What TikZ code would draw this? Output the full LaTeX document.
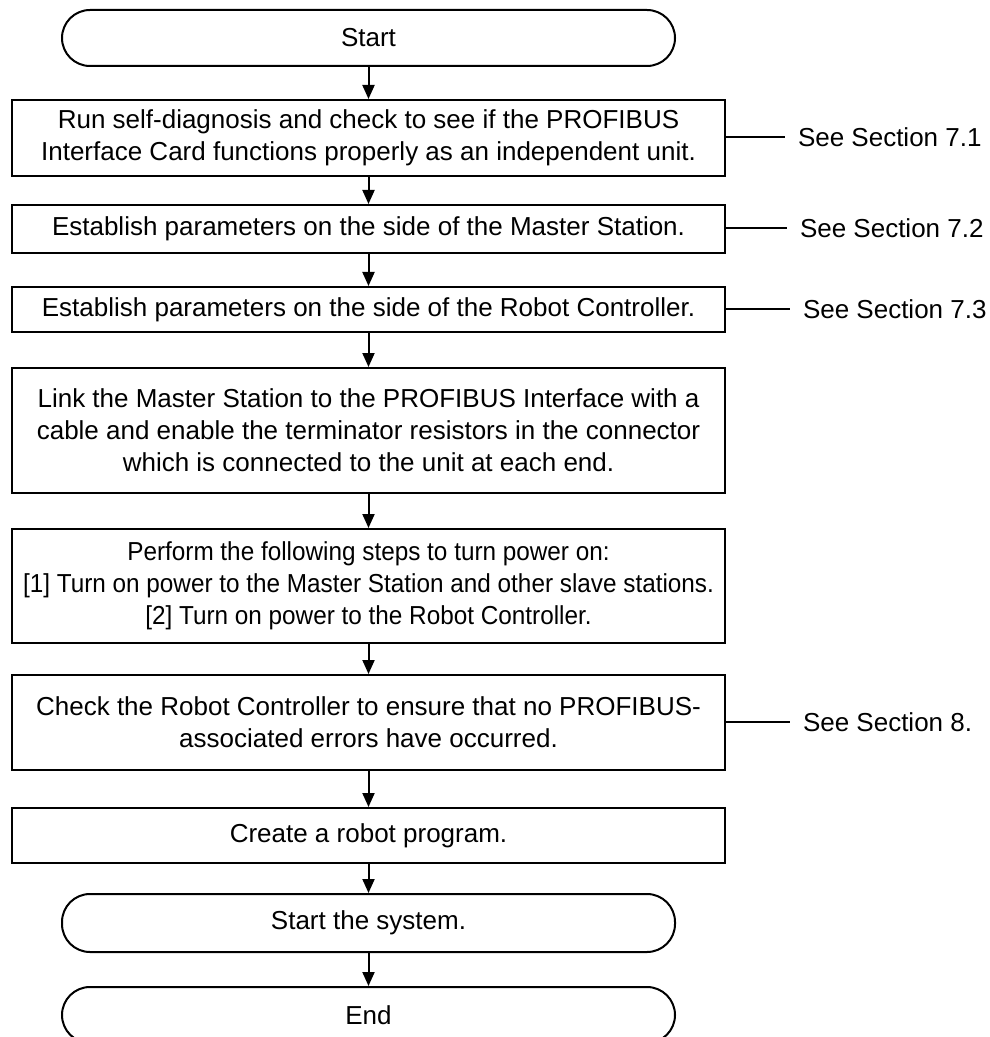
\documentclass[tikz,border=0pt]{standalone}
\usepackage{fontspec}
\setmainfont{Liberation Sans}
\newfontfamily\narrowfont[FakeStretch=0.935]{Liberation Sans}
\usetikzlibrary{arrows.meta}

\begin{document}
\begin{tikzpicture}[x=0.5pt,y=-0.5pt,line width=1pt,>={Triangle[width=6pt,length=7pt]},
  stepbox/.style={draw,rectangle,minimum width=356.5pt,align=center,inner sep=0pt,
    font=\fontsize{13}{16}\selectfont},
  termbox/.style={draw,rectangle,rounded corners=14pt,minimum width=306.5pt,
    minimum height=28pt,align=center,inner sep=0pt,font=\fontsize{13}{16}\selectfont},
  refnote/.style={anchor=west,inner xsep=6pt,inner ysep=0pt,font=\fontsize{13}{16}\selectfont}]
\useasboundingbox (0,0) rectangle (989,1037);
% ---------- main flow ----------
\node[termbox] (start) at (368.5,38) {Start};
\node[stepbox,minimum height=38pt] (selftest) at (368.5,138)
  {Run self-diagnosis and check to see if the PROFIBUS\\
   Interface Card functions properly as an independent unit.};
\node[stepbox,minimum height=24pt] (masterpar) at (368.5,229)
  {Establish parameters on the side of the Master Station.};
\node[stepbox,minimum height=22.5pt] (robotpar) at (368.5,309.5)
  {Establish parameters on the side of the Robot Controller.};
\node[stepbox,minimum height=62.5pt] (link) at (368.5,430.5)
  {Link the Master Station to the PROFIBUS Interface with a\\
   cable and enable the terminator resistors in the connector\\
   which is connected to the unit at each end.};
\node[stepbox,minimum height=57pt,font=\narrowfont\fontsize{13}{16}\selectfont] (power) at (368.5,586)
  {Perform the following steps to turn power on:\\
   {[1]} Turn on power to the Master Station and other slave stations.\\
   {[2]} Turn on power to the Robot Controller.};
\node[stepbox,minimum height=47.5pt] (check) at (368.5,722.5)
  {Check the Robot Controller to ensure that no PROFIBUS-\\
   associated errors have occurred.};
\node[stepbox,minimum height=27.5pt] (program) at (368.5,835.5)
  {Create a robot program.};
\node[termbox,minimum height=29pt] (runsys) at (368.5,923) {Start the system.};
\node[termbox] (finish) at (368.5,1015) {End};
\foreach \a/\b in {start/selftest,selftest/masterpar,masterpar/robotpar,robotpar/link,
  link/power,power/check,check/program,program/runsys,runsys/finish}
  \draw[->] (\a) -- (\b);
% ---------- section references ----------
\node[refnote] (sec71) at (785,137) {See Section 7.1};
\node[refnote] (sec72) at (787,228) {See Section 7.2};
\node[refnote] (sec73) at (790,309) {See Section 7.3};
\node[refnote] (sec8) at (790,722) {See Section 8.};
\draw (selftest.east |- sec71.west) -- (sec71.west);
\draw (masterpar.east |- sec72.west) -- (sec72.west);
\draw (robotpar.east |- sec73.west) -- (sec73.west);
\draw (check.east |- sec8.west) -- (sec8.west);
\end{tikzpicture}
\end{document}
